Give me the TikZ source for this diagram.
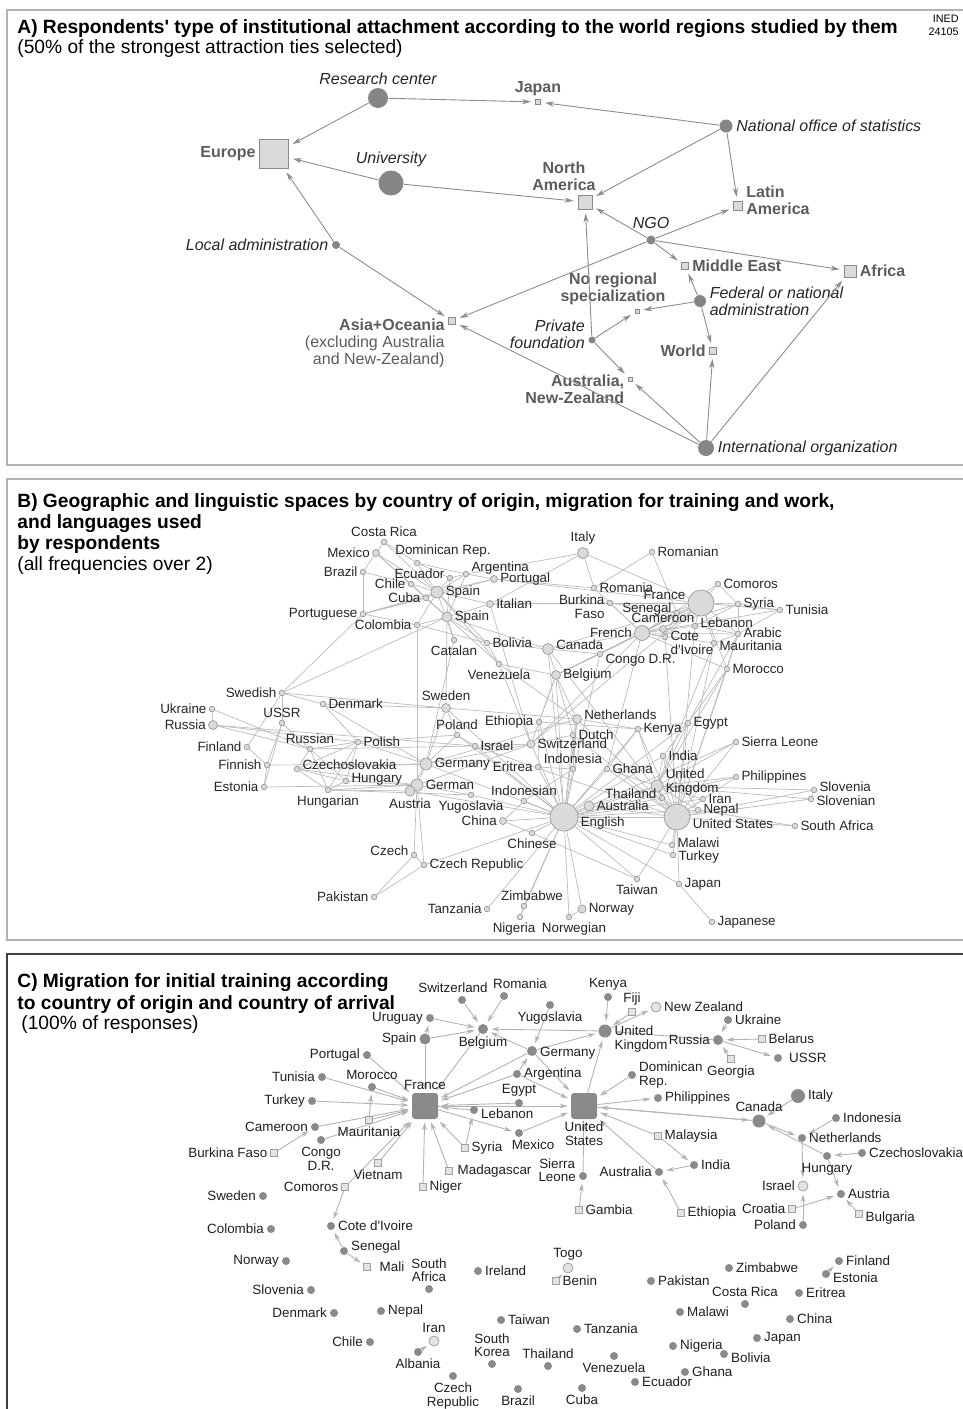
\documentclass[tikz,border=0pt]{standalone}
\usepackage{fontspec}
\setmainfont{Liberation Sans}
\usetikzlibrary{arrows.meta, backgrounds}
\definecolor{instgray}{HTML}{858585}
\definecolor{regfill}{HTML}{DADADA}
\definecolor{regline}{HTML}{8A8A8A}
\definecolor{arrgray}{HTML}{8C8C8C}
\definecolor{reglab}{HTML}{5C5C5C}
\definecolor{bline}{HTML}{BBBBBB}
\definecolor{bfill}{HTML}{DADADA}
\definecolor{bdraw}{HTML}{9A9A9A}
\definecolor{dotgray}{HTML}{8A8A8A}
\definecolor{cline}{HTML}{B3B3B3}

\begin{document}
\begin{tikzpicture}[x=0.5pt, y=-0.5pt,
  panel/.style={draw=gray!60, line width=0.6pt},
  ttl/.style={anchor=north west, inner sep=0pt, align=left, font=\fontsize{9.6}{10}\selectfont},
  inst/.style={circle, fill=instgray, inner sep=0pt},
  reg/.style={rectangle, draw=regline, fill=regfill, inner sep=0pt, line width=0.5pt},
  rlab/.style={font=\fontsize{8}{8.5}\selectfont\bfseries, text=reglab, inner sep=1.5pt},
  ilab/.style={font=\fontsize{8}{8.5}\selectfont\itshape, text=black!85, inner sep=1.5pt},
  aarr/.style={draw=arrgray, line width=0.45pt, -{Stealth[length=4.5pt, width=2.6pt]}, shorten >=2pt},
  bn/.style={circle, draw=bdraw, fill=bfill, line width=0.35pt, inner sep=0pt, minimum size=2.8pt},
  bedge/.style={draw=bline, line width=0.35pt},
  cdt/.style={circle, fill=dotgray, inner sep=0pt, minimum size=4pt},
  csq/.style={rectangle, draw=gray!75, fill=gray!22, line width=0.4pt, inner sep=0pt, minimum size=3.5pt},
  clt/.style={circle, draw=gray!75, fill=gray!22, line width=0.4pt, inner sep=0pt, minimum size=5pt},
  chub/.style={rectangle, rounded corners=1.5pt, fill=dotgray, inner sep=0pt, minimum size=13pt},
  carr/.style={draw=cline, line width=0.45pt, -{Stealth[length=4pt, width=2.4pt]}, shorten >=1.5pt},
]
\useasboundingbox (0,0) rectangle (963,1409);

% panel frames
\draw[panel] (7,10) rectangle (985,465);
\draw[panel] (7,479) rectangle (985,940);
\draw[draw=black!75, line width=0.6pt] (7,954) rectangle (985,1430);

% ---------------- A) institutions and world regions
\node[ttl] (ta) at (17,19) {\textbf{A) Respondents\textquotesingle{} type of institutional attachment according to the world regions studied by them}\\(50\% of the strongest attraction ties selected)};
\node[anchor=north east, align=right, inner sep=0pt, font=\fontsize{5.4}{6.5}\selectfont] (ined) at (959,15) {INED\\24105};

\node[inst, minimum size=10pt, label={[ilab]above:Research center}] (arc) at (378,98) {};
\node[reg, minimum size=2.5pt, label={[rlab]above:Japan}] (ajp) at (538,102) {};
\node[inst, minimum size=6.5pt, label={[ilab]right:National office of statistics}] (anos) at (726,126) {};
\node[reg, minimum size=14.5pt, label={[rlab]left:Europe}] (aeu) at (274,154) {};
\node[inst, minimum size=12.5pt, label={[ilab]above:University}] (auni) at (391,183) {};
\node[reg, minimum size=7pt, label={[rlab, align=center, xshift=-10.5pt]above:North\\America}] (ana) at (585,202) {};
\node[reg, minimum size=4.5pt, label={[rlab, align=left, yshift=3pt]right:Latin\\America}] (ala) at (738,206) {};
\node[inst, minimum size=4.5pt, label={[ilab, yshift=1.5pt]above:NGO}] (ango) at (651,240) {};
\node[inst, minimum size=4pt, label={[ilab]left:Local administration}] (aloc) at (336,245) {};
\node[reg, minimum size=3.5pt, label={[rlab]right:Middle East}] (ame) at (685,266) {};
\node[reg, minimum size=6pt, label={[rlab]right:Africa}] (aaf) at (850,271) {};
\node[reg, minimum size=2pt, label={[rlab, align=center, xshift=-12pt]above:No regional\\specialization}] (anrs) at (637,311) {};
\node[inst, minimum size=6pt, label={[ilab, align=left]right:Federal or national\\administration}] (afed) at (700,301) {};
\node[reg, minimum size=3.5pt, label={[rlab, align=right, anchor=north east, yshift=3pt]left:Asia+Oceania\\{\mdseries (excluding Australia}\\{\mdseries and New-Zealand)}}] (aas) at (452,321) {};
\node[inst, minimum size=3.5pt, label={[ilab, align=right, yshift=3pt]left:Private\\foundation}] (apf) at (592,340) {};
\node[reg, minimum size=3.5pt, label={[rlab]left:World}] (awo) at (713,351) {};
\node[reg, minimum size=2pt, label={[rlab, align=right, anchor=north east, yshift=4pt]left:Australia,\\New-Zealand}] (aanz) at (630,379) {};
\node[inst, minimum size=8pt, label={[ilab]right:International organization}] (aio) at (706,448) {};

\foreach \p/\q in {arc/aeu, arc/ajp, anos/ajp, anos/ana, anos/ala, auni/aeu, auni/ana,
    aloc/aeu, aloc/aas, ango/ana, ango/ala, ango/ame, ango/aaf, ango/aas,
    afed/ame, afed/anrs, afed/awo, apf/ana, apf/anrs, apf/aanz,
    aio/aas, aio/aanz, aio/awo, aio/aaf}
  \draw[aarr] (\p) -- (\q);

% ---------------- B) geographic and linguistic spaces
\node[ttl, font=\fontsize{9.6}{10.5}\selectfont] (tb) at (17,493) {\textbf{B) Geographic and linguistic spaces by country of origin, migration for training and work,}\\\textbf{and languages used}\\\textbf{by respondents}\\(all frequencies over 2)};

\begin{scope}[every label/.style={font=\fontsize{6.7}{7}\selectfont, text=black!85, inner sep=1pt}]
\node[bn, label=above:Costa Rica] (bcr) at (384,542) {};
\node[bn, minimum size=3.5pt, label=left:Mexico] (bmx) at (376,553) {};
\node[bn, label={[xshift=13pt]above:Dominican Rep.}] (bdr) at (417,563) {};
\node[bn, label=left:Brazil] (bbr) at (363,572) {};
\node[bn, label={[yshift=2pt]left:Ecuador}] (bec) at (450,578) {};
\node[bn, label={[yshift=3pt]right:Argentina}] (bar) at (466,574) {};
\node[bn, minimum size=3.5pt, label=right:Portugal] (bpt) at (494,579) {};
\node[bn, label=left:Chile] (bcl) at (411,584) {};
\node[bn, minimum size=6pt, label=right:Spain] (bes1) at (437,592) {};
\node[bn, label=left:Cuba] (bcu) at (426,598) {};
\node[bn, label=left:Portuguese] (bptg) at (363,614) {};
\node[bn, minimum size=5pt, label=right:Spain] (bes2) at (447,617) {};
\node[bn, label=left:Colombia] (bco) at (417,625) {};
\node[bn, label=below:Catalan] (bcat) at (454,640) {};
\node[bn, minimum size=5.5pt, label=above:Italy] (bit) at (583,553) {};
\node[bn, label=right:Romanian] (brom) at (652,552) {};
\node[bn, label=right:Romania] (bro) at (594,588) {};
\node[bn, minimum size=3.5pt, label=right:Italian] (bita) at (490,604) {};
\node[bn, label={[align=right, yshift=-2pt]left:Burkina\\Faso}] (bbf) at (610,603) {};
\node[bn, minimum size=13pt, label={[yshift=4pt]left:France}] (bfr) at (701,603) {};
\node[bn, label=right:Comoros] (bcom) at (718,584) {};
\node[bn, label=right:Syria] (bsy) at (738,604) {};
\node[bn, label=right:Tunisia] (btn) at (780,610) {};
\node[bn, label={[yshift=2pt]left:Senegal}] (bsn) at (677,613) {};
\node[bn, minimum size=3.5pt, label=above:Cameroon] (bcm) at (663,629) {};
\node[bn, label={[yshift=1.5pt]right:Lebanon}] (blb) at (695,626) {};
\node[bn, minimum size=7.5pt, label=left:French] (bfrl) at (642,633) {};
\node[bn, label={[align=left, yshift=-3pt]right:Cote\\d\textquotesingle{}Ivoire}] (bci) at (665,637) {};
\node[bn, label={[yshift=0.5pt]right:Arabic}] (barb) at (738,634) {};
\node[bn, label={[yshift=-1.5pt]right:Mauritania}] (bmr) at (714,643) {};
\node[bn, minimum size=5.5pt, label={[yshift=2pt]right:Canada}] (bca) at (548,649) {};
\node[bn, label=right:Bolivia] (bbo) at (487,643) {};
\node[bn, label={[yshift=-3pt]right:Congo D.R.}] (bcg) at (600,654) {};
\node[bn, label=below:Venezuela] (bve) at (499,664) {};
\node[bn, label=right:Morocco] (bma) at (727,669) {};
\node[bn, minimum size=4.5pt, label=right:Belgium] (bbe) at (556,675) {};
\node[bn, label=left:Swedish] (bswd) at (282,693) {};
\node[bn, minimum size=4.5pt, label=above:Sweden] (bse) at (446,708) {};
\node[bn, label=left:Ukraine] (bua) at (212,709) {};
\node[bn, label=right:Denmark] (bdk) at (323,704) {};
\node[bn, minimum size=4.5pt, label=left:Russia] (bru) at (213,725) {};
\node[bn, label=above:USSR] (bussr) at (282,723) {};
\node[bn, label=left:Finland] (bfi) at (247,747) {};
\node[bn, label=above:Russian] (brus) at (310,749) {};
\node[bn, label=right:Polish] (bpl) at (358,742) {};
\node[bn, label=left:Finnish] (bfin) at (267,765) {};
\node[bn, label={[yshift=2pt]right:Czechoslovakia}] (bcs) at (297,769) {};
\node[bn, label={[yshift=1pt]right:Hungary}] (bhu) at (346,781) {};
\node[bn, label=left:Estonia] (best) at (264,787) {};
\node[bn, label=below:Hungarian] (bhun) at (328,790) {};
\node[bn, label={[yshift=2pt]left:Czech}] (bcz) at (414,855) {};
\node[bn, label=right:Czech Republic] (bczr) at (424,865) {};
\node[bn, label=left:Pakistan] (bpk) at (374,897) {};
\node[bn, label=left:Tanzania] (btz) at (487,909) {};
\node[bn, label=left:Ethiopia] (beth) at (539,722) {};
\node[bn, minimum size=4.5pt, label={[yshift=2pt]right:Netherlands}] (bnl) at (577,719) {};
\node[bn, label=right:Kenya] (bke) at (638,729) {};
\node[bn, label=right:Egypt] (beg) at (688,723) {};
\node[bn, label=above:Poland] (bpo) at (457,735) {};
\node[bn, label=right:Dutch] (bdu) at (573,735) {};
\node[bn, label=right:Israel] (bis) at (475,746) {};
\node[bn, minimum size=4pt, label=right:Switzerland] (bch) at (531,744) {};
\node[bn, minimum size=6pt, label=right:Germany] (bde) at (426,764) {};
\node[bn, label=left:Eritrea] (ber) at (538,767) {};
\node[bn, label=above:Indonesia] (bind) at (573,769) {};
\node[bn, label=right:Ghana] (bgh) at (607,769) {};
\node[bn, label=right:India] (bin) at (663,756) {};
\node[bn, minimum size=6pt, label={[align=left, yshift=2pt]right:United\\Kingdom}] (bgb) at (657,786) {};
\node[bn, minimum size=6pt, label=right:German] (bger) at (417,785) {};
\node[bn, minimum size=5pt, label=below:Austria] (bat) at (410,791) {};
\node[bn, label=below:Yugoslavia] (byu) at (471,795) {};
\node[bn, label=above:Indonesian] (bidn) at (524,801) {};
\node[bn, label={[yshift=2pt]left:Thailand}] (bth) at (662,798) {};
\node[bn, minimum size=3.5pt, label=left:China] (bcn) at (503,821) {};
\node[bn, label=below:Chinese] (bzh) at (532,833) {};
\node[bn, minimum size=14pt, label={[yshift=-3pt]right:English}] (ben) at (564,817) {};
\node[bn, minimum size=5pt, label=right:Australia] (bau) at (589,806) {};
\node[bn, minimum size=13pt, label={[yshift=-3.5pt]right:United States}] (bus) at (677,817) {};
\node[bn, label=right:Iran] (bir) at (703,799) {};
\node[bn, label=right:Nepal] (bnp) at (698,810) {};
\node[bn, label=right:Philippines] (bph) at (736,777) {};
\node[bn, label=right:Sierra Leone] (bsl) at (736,742) {};
\node[bn, label={[yshift=1.5pt]right:Slovenia}] (bsvn) at (814,790) {};
\node[bn, label={[yshift=-1pt]right:Slovenian}] (bsvl) at (811,799) {};
\node[bn, label=right:South Africa] (bza) at (795,826) {};
\node[bn, label={[yshift=1pt]right:Malawi}] (bmw) at (672,845) {};
\node[bn, label={[yshift=-1pt]right:Turkey}] (btr) at (673,855) {};
\node[bn, label=below:Taiwan] (btw) at (637,879) {};
\node[bn, label=right:Japan] (bjp) at (679,884) {};
\node[bn, label=right:Japanese] (bjpn) at (712,922) {};
\node[bn, label={[xshift=4pt]above:Zimbabwe}] (bzw) at (524,906) {};
\node[bn, label={[xshift=-3pt]below:Nigeria}] (bng) at (520,917) {};
\node[bn, minimum size=4pt, label=right:Norway] (bno) at (582,909) {};
\node[bn, label={[xshift=2.5pt]below:Norwegian}] (bnwg) at (569,917) {};
\end{scope}

\begin{scope}[on background layer]
\foreach \p/\q in {cr/mx, cr/dr, cr/es1, mx/es1, mx/es2, mx/cl, mx/br, br/ptg, br/cl, dr/es1, dr/ec, dr/ar,
    ec/es1, ec/ar, ec/es2, ar/es1, ar/pt, ar/es2, ar/it, cl/es1, cl/es2, cl/cu, cu/es1, cu/es2, cu/ptg,
    co/es1, co/es2, co/ptg, co/ger, co/bo, ptg/swd, ptg/pt, ptg/es1, pt/es1, pt/ro, pt/fr,
    es1/cat, es1/bo, es1/ve, es1/ita, es2/cat, es2/ita, es2/bo, es2/ve, es2/ca, es2/se, cat/de,
    bo/ve, bo/ca, ve/be, ve/ch, ve/nl, it/ita, it/fr, it/ro, ro/rom, ro/frl, rom/sn, ita/bf, ita/fr, ita/ch,
    fr/frl, fr/com, fr/sy, fr/tn, fr/sn, fr/cm, fr/lb, fr/ci, fr/arb, fr/mr, fr/bf, fr/ma, fr/ca, fr/be, fr/ch,
    frl/sn, frl/cm, frl/ci, frl/lb, frl/mr, frl/bf, frl/cg, frl/ca, frl/be, frl/ch, frl/ma, frl/tn, frl/arb,
    frl/com, frl/sy, frl/gh, arb/sy, arb/lb, arb/tn, arb/ma, arb/mr, arb/eg, ca/cg, ca/be, ca/en, ca/us,
    cg/be, cg/en, sn/ci, cm/ci, lb/sy, bf/sn, ma/eg, ma/us, mr/gb, ci/us, com/sy, tn/sy,
    swd/se, swd/dk, swd/ussr, swd/fi, swd/es2, se/dk, se/de, se/nl, se/en, se/po, dk/de, dk/pl,
    ua/rus, ua/ru, ru/rus, ru/is, ru/pl, ussr/rus, ussr/fin, ussr/est, fi/fin, fin/est, fin/de, est/ger,
    rus/cs, rus/hun, rus/pl, rus/hu, pl/cs, pl/hu, pl/po, pl/hun, pl/de, cs/hu, cs/hun, cs/ger, cs/de,
    hu/hun, hu/ger, hun/ger, hun/at, de/ger, de/at, de/ch, de/nl, de/en, de/po, ger/at, ger/ch, ger/yu,
    ger/czr, ger/cz, at/en, cz/czr, cz/pk, czr/pk, czr/en, po/is, po/en, is/en, is/ch, is/us, is/rus,
    nl/du, nl/be, du/be, nl/en, nl/ind, du/ind, nl/ke, ch/en, ch/be, ch/du, yu/en, yu/hun, be/en, be/eth, du/us,
    en/us, en/gb, en/au, en/in, en/gh, en/ke, en/ng, en/zw, en/tz, en/no, en/nwg, en/zh, en/cn, en/idn,
    en/eth, en/er, en/th, en/mw, en/tr, en/jp, en/ph, en/sl, en/eg, en/du, en/ind, en/ir, en/np, en/tw,
    us/gb, us/au, us/in, us/ir, us/np, us/tw, us/jp, us/mw, us/tr, us/svn, us/svl, us/za, us/ph, us/sl,
    us/eg, us/ke, us/gh, us/arb, us/lb, us/th, us/nl, us/mr, gb/svn, gb/svl, gb/ir, gb/np, gb/in, gb/ke,
    gb/gh, gb/eg, gb/sl, gb/au, gb/ph, gb/th, gb/ma, no/nwg, zh/cn, zh/tw, jp/jpn, idn/ind, idn/cn,
    svn/svl, eth/er, eth/ke, gh/ke, in/np, za/np, er/ind, ke/eg, in/eg, zw/ng}
  \draw[bedge] (b\p) -- (b\q);
\end{scope}

% ---------------- C) migration for initial training
\node[ttl, font=\fontsize{9.6}{11}\selectfont] (tc) at (17,973) {\textbf{C) Migration for initial training according}\\\textbf{to country of origin and country of arrival}\\[-1pt]\hspace{2pt}(100\% of responses)};

\begin{scope}[every label/.style={font=\fontsize{6.7}{6.8}\selectfont, text=black!88, inner sep=1.2pt}]
\node[cdt, label={[xshift=-4.5pt]above:Switzerland}] (csw) at (462,1000) {};
\node[cdt, label=left:Uruguay] (cuy) at (430,1018) {};
\node[cdt, minimum size=5.5pt, label=left:Spain] (ces) at (425,1039) {};
\node[cdt, minimum size=5pt, label=below:Belgium] (cbe) at (483,1029) {};
\node[cdt, label={[xshift=8pt]above:Romania}] (cro) at (504,996) {};
\node[cdt, label=below:Yugoslavia] (cyu) at (550,1005) {};
\node[cdt, label=above:Kenya] (cke) at (608,997) {};
\node[csq, label=above:Fiji] (cfj) at (632,1012) {};
\node[clt, label=right:New Zealand] (cnz) at (656,1007) {};
\node[cdt, minimum size=6.5pt, label={[align=left, yshift=-4pt]right:United\\Kingdom}] (cgb) at (605,1031) {};
\node[cdt, label=right:Ukraine] (cua) at (728,1020) {};
\node[cdt, minimum size=5pt, label=left:Russia] (cru) at (718,1040) {};
\node[csq, label=right:Belarus] (cby) at (762,1039) {};
\node[csq, label=below:Georgia] (cge) at (731,1059) {};
\node[cdt, label={[xshift=2pt]right:USSR}] (cussr) at (778,1058) {};
\node[cdt, minimum size=5pt, label={[yshift=-1pt]right:Germany}] (cde) at (532,1051) {};
\node[cdt, label=left:Portugal] (cpt) at (367,1055) {};
\node[cdt, label=right:Argentina] (car) at (517,1074) {};
\node[cdt, label={[align=left]right:Dominican\\Rep.}] (cdr) at (632,1075) {};
\node[cdt, label=left:Tunisia] (ctn) at (322,1077) {};
\node[cdt, label=above:Morocco] (cma) at (372,1087) {};
\node[chub, label=above:France] (cfr) at (425,1106) {};
\node[cdt, label=above:Egypt] (ceg) at (519,1103) {};
\node[cdt, label=right:Philippines] (cph) at (658,1098) {};
\node[cdt, minimum size=7pt, label=right:Italy] (cit) at (798,1096) {};
\node[cdt, label=left:Turkey] (ctr) at (312,1101) {};
\node[chub, label={[align=center]below:United\\States}] (cus) at (584,1106) {};
\node[cdt, label={[yshift=-2pt]right:Lebanon}] (clb) at (474,1110) {};
\node[cdt, minimum size=6.5pt, label=above:Canada] (cca) at (759,1121) {};
\node[cdt, label=right:Indonesia] (cid) at (836,1118) {};
\node[csq, label=below:Mauritania] (cmr) at (369,1120) {};
\node[cdt, label=left:Cameroon] (ccm) at (315,1127) {};
\node[cdt, label={[xshift=7pt]below:Mexico}] (cmx) at (519,1133) {};
\node[csq, label=right:Malaysia] (cmy) at (658,1136) {};
\node[cdt, label=right:Netherlands] (cnl) at (802,1138) {};
\node[cdt, label={[align=center]below:Congo\\D.R.}] (ccg) at (321,1140) {};
\node[csq, label=right:Syria] (csy) at (465,1148) {};
\node[csq, label=left:Burkina Faso] (cbf) at (274,1153) {};
\node[cdt, label=right:Czechoslovakia] (ccs) at (862,1153) {};
\node[cdt, label=below:Hungary] (chu) at (827,1156) {};
\node[csq, label=below:Vietnam] (cvn) at (378,1163) {};
\node[cdt, label=right:India] (cin) at (694,1165) {};
\node[csq, label={[xshift=1pt]right:Madagascar}] (cmg) at (449,1171) {};
\node[cdt, label=left:Australia] (cau) at (659,1172) {};
\node[cdt, label={[align=center, yshift=3pt]left:Sierra\\Leone}] (csl) at (583,1176) {};
\node[clt, label=left:Israel] (cis) at (803,1186) {};
\node[csq, label=left:Comoros] (ccom) at (345,1187) {};
\node[csq, label=right:Niger] (cngr) at (423,1187) {};
\node[cdt, label=right:Austria] (cat) at (841,1194) {};
\node[cdt, label=left:Sweden] (cswe) at (263,1196) {};
\node[csq, label=left:Croatia] (ccro) at (792,1209) {};
\node[csq, label=right:Gambia] (cgm) at (579,1210) {};
\node[csq, label=right:Ethiopia] (cet) at (681,1213) {};
\node[csq, label={[yshift=-2pt]right:Bulgaria}] (cbg) at (859,1214) {};
\node[cdt, label=left:Poland] (cpl) at (803,1225) {};
\node[cdt, label=right:Cote d\textquotesingle{}Ivoire] (cci) at (331,1226) {};
\node[cdt, label=left:Colombia] (cco) at (271,1229) {};
\node[cdt, label={[yshift=2pt]right:Senegal}] (csn) at (344,1251) {};
\node[clt, label=above:Togo] (ctg) at (568,1268) {};
\node[cdt, label=left:Norway] (cno) at (286,1261) {};
\node[cdt, label=right:Finland] (cfi) at (839,1261) {};
\node[csq, label={[xshift=3pt]right:Mali}] (cml) at (367,1267) {};
\node[cdt, label=right:Zimbabwe] (czw) at (729,1268) {};
\node[cdt, label=right:Ireland] (cie) at (478,1271) {};
\node[cdt, label={[yshift=-2pt]right:Estonia}] (cee) at (826,1274) {};
\node[csq, label=right:Benin] (cbj) at (556,1281) {};
\node[cdt, label=right:Pakistan] (cpk) at (651,1281) {};
\node[cdt, label={[align=center]above:South\\Africa}] (cza) at (429,1289) {};
\node[cdt, label=left:Slovenia] (csi) at (311,1290) {};
\node[cdt, label=right:Eritrea] (cer) at (799,1293) {};
\node[cdt, label=above:Costa Rica] (ccr) at (745,1304) {};
\node[cdt, label=right:Nepal] (cnp) at (381,1311) {};
\node[cdt, label=right:Malawi] (cmw) at (680,1312) {};
\node[cdt, label=left:Denmark] (cdk) at (334,1313) {};
\node[cdt, label=right:China] (ccn) at (790,1319) {};
\node[cdt, label=right:Taiwan] (ctw) at (501,1320) {};
\node[cdt, label=right:Tanzania] (ctz) at (577,1329) {};
\node[cdt, label=right:Japan] (cjp) at (757,1338) {};
\node[clt, label=above:Iran] (cir) at (434,1341) {};
\node[cdt, label=left:Chile] (ccl) at (370,1342) {};
\node[cdt, label=right:Nigeria] (cng) at (673,1346) {};
\node[cdt, label=below:Albania] (cal) at (418,1352) {};
\node[cdt, label={[yshift=-2pt]right:Bolivia}] (cbo) at (724,1354) {};
\node[cdt, label={[align=center]above:South\\Korea}] (ckr) at (492,1364) {};
\node[cdt, label=below:Venezuela] (cve) at (614,1356) {};
\node[cdt, label=above:Thailand] (cth) at (548,1366) {};
\node[cdt, label=right:Ghana] (cgh) at (685,1372) {};
\node[cdt, label={[align=center]below:Czech\\Republic}] (cczr) at (453,1376) {};
\node[cdt, label=right:Ecuador] (cec) at (635,1382) {};
\node[cdt, label=below:Cuba] (ccu) at (582,1388) {};
\node[cdt, label=below:Brazil] (cbr) at (518,1389) {};
\end{scope}

\begin{scope}[on background layer]
\foreach \p/\q in {sw/be, uy/be, es/be, es/uy, es/fr, ro/be, gb/be, be/fr, de/be, yu/de, de/gb, de/fr,
    de/us, ar/de, ar/fr, ar/us, eg/fr, fr/us, sy/lb, lb/fr, sy/fr, fr/mx, mx/us, mg/fr, ngr/fr, vn/fr,
    com/fr, com/ci, sn/ci, sn/ml, mr/ma, mr/fr, ma/fr, pt/fr, tn/fr, tr/fr, cm/fr, cg/fr, bf/cm,
    ke/gb, fj/gb, gb/nz, us/gb, ru/gb, ua/ru, by/ru, ge/ru, ru/ussr, dr/us, us/ph, ca/us, us/ca,
    it/ca, ca/nl, hu/ca, id/nl, cs/hu, nl/is, pl/is, cro/at, bg/at, hu/at, my/us, my/in, in/au,
    et/au, au/us, sl/us, gm/sl, al/ir, bj/tg, ee/fi}
  \draw[carr] (c\p) -- (c\q);
\end{scope}
\end{tikzpicture}
\end{document}
